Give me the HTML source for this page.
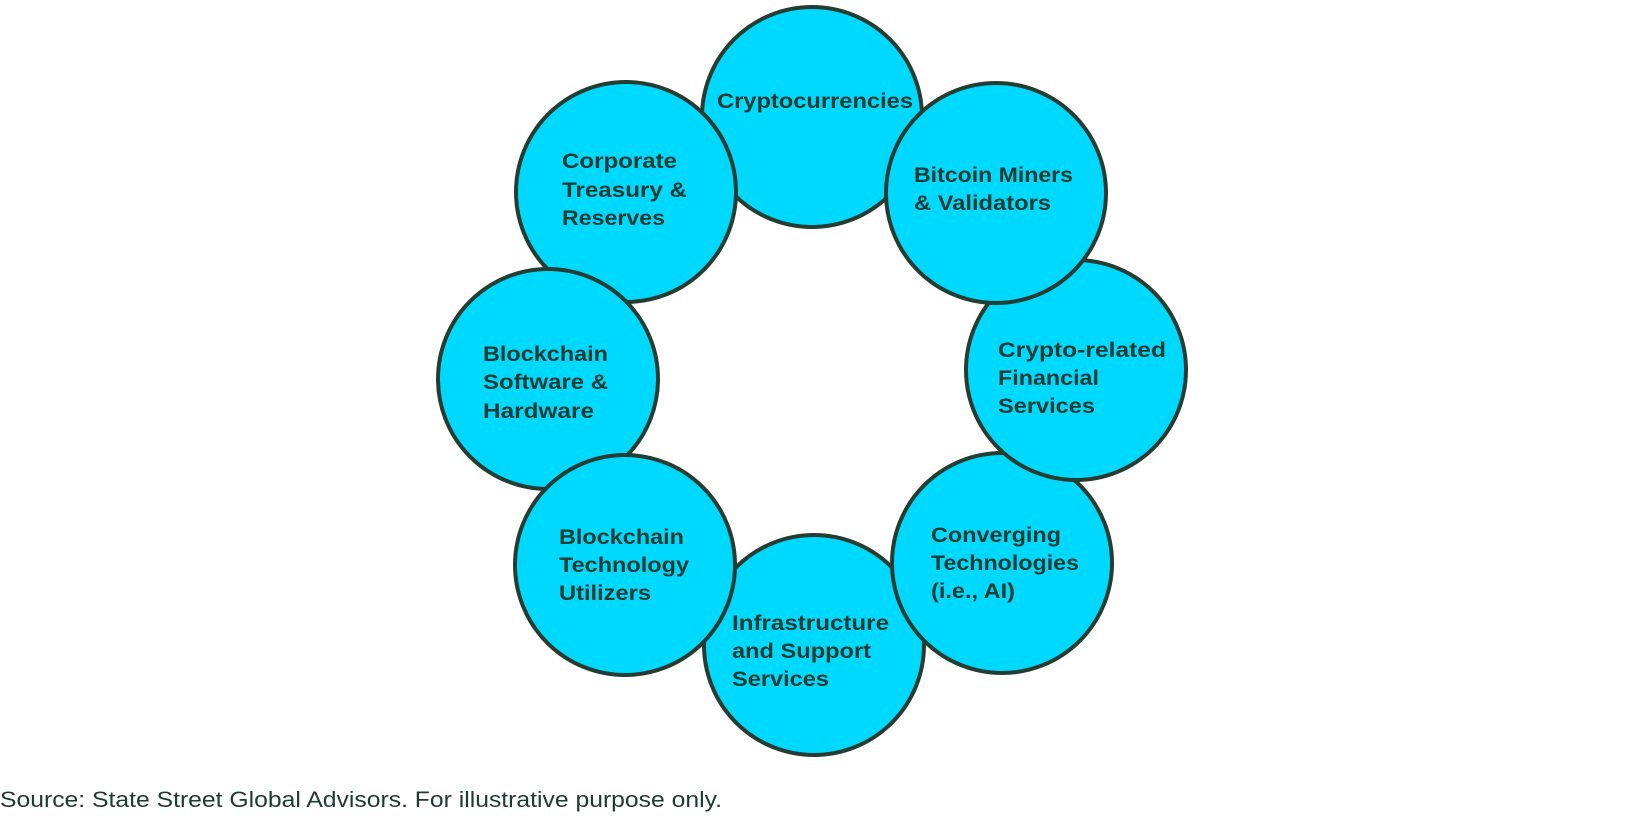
<!DOCTYPE html>
<html><head><meta charset="utf-8"><style>
html,body{margin:0;padding:0;background:#fff;}
svg{display:block}
text{font-family:"Liberation Sans",sans-serif;fill:#1f3a2e;}
.l{font-weight:bold;font-size:21px;}
</style></head><body>
<svg width="1626" height="816" viewBox="0 0 1626 816" xmlns="http://www.w3.org/2000/svg">
<g fill="#00d9ff" stroke="#253d31" stroke-width="4">
<circle cx="812" cy="117" r="110"/>
<circle cx="626" cy="192" r="110"/>
<circle cx="548" cy="379" r="110"/>
<circle cx="814" cy="645" r="110"/>
<circle cx="625" cy="565" r="110"/>
<circle cx="1002" cy="563" r="110"/>
<circle cx="1076" cy="370" r="110"/>
<circle cx="996" cy="193" r="110"/>
</g>
<g class="l">
<text x="717" y="108" textLength="196" lengthAdjust="spacingAndGlyphs">Cryptocurrencies</text>
<text x="914" y="182" textLength="159" lengthAdjust="spacingAndGlyphs">Bitcoin Miners</text>
<text x="914" y="210" textLength="137" lengthAdjust="spacingAndGlyphs">&amp; Validators</text>
<text x="562" y="168" textLength="115" lengthAdjust="spacingAndGlyphs">Corporate</text>
<text x="562" y="197" textLength="125" lengthAdjust="spacingAndGlyphs">Treasury &amp;</text>
<text x="562" y="225" textLength="103" lengthAdjust="spacingAndGlyphs">Reserves</text>
<text x="483" y="361" textLength="125" lengthAdjust="spacingAndGlyphs">Blockchain</text>
<text x="483" y="389" textLength="125" lengthAdjust="spacingAndGlyphs">Software &amp;</text>
<text x="483" y="418" textLength="111" lengthAdjust="spacingAndGlyphs">Hardware</text>
<text x="998" y="357" textLength="168" lengthAdjust="spacingAndGlyphs">Crypto-related</text>
<text x="998" y="385" textLength="101" lengthAdjust="spacingAndGlyphs">Financial</text>
<text x="998" y="413" textLength="97" lengthAdjust="spacingAndGlyphs">Services</text>
<text x="559" y="544" textLength="125" lengthAdjust="spacingAndGlyphs">Blockchain</text>
<text x="559" y="572" textLength="130" lengthAdjust="spacingAndGlyphs">Technology</text>
<text x="559" y="600" textLength="92" lengthAdjust="spacingAndGlyphs">Utilizers</text>
<text x="931" y="542" textLength="130" lengthAdjust="spacingAndGlyphs">Converging</text>
<text x="931" y="570" textLength="148" lengthAdjust="spacingAndGlyphs">Technologies</text>
<text x="931" y="598" textLength="84" lengthAdjust="spacingAndGlyphs">(i.e., AI)</text>
<text x="732" y="630" textLength="157" lengthAdjust="spacingAndGlyphs">Infrastructure</text>
<text x="732" y="658" textLength="139" lengthAdjust="spacingAndGlyphs">and Support</text>
<text x="732" y="686" textLength="97" lengthAdjust="spacingAndGlyphs">Services</text>
</g>
<text x="0" y="807" font-size="22" textLength="722" lengthAdjust="spacingAndGlyphs">Source: State Street Global Advisors. For illustrative purpose only.</text>
</svg>
</body></html>
